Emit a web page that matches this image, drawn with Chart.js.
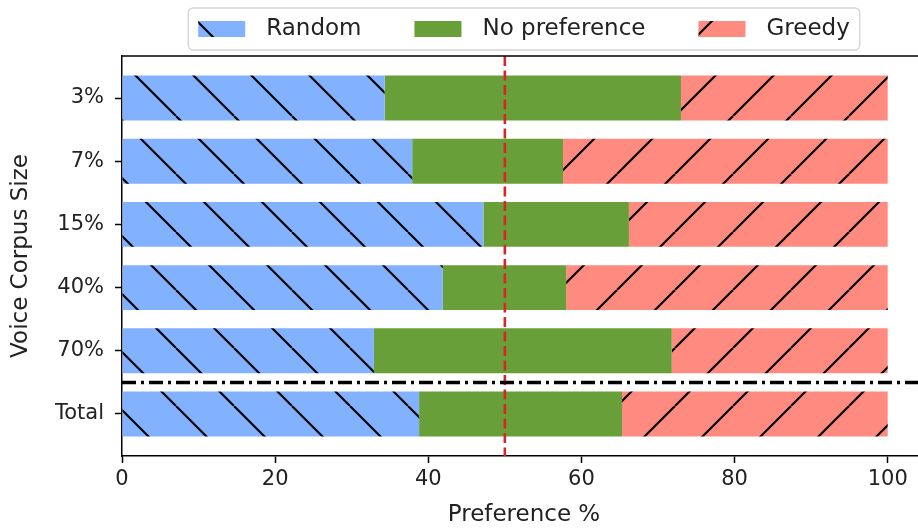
<!DOCTYPE html>
<html>
<head>
<meta charset="utf-8">
<script src="https://cdn.jsdelivr.net/npm/chart.js@4/dist/chart.umd.min.js"></script>
<style>
  html, body { margin: 0; padding: 0; background: #fff; overflow: hidden; }
  #wrap { width: 940px; height: 530px; }
</style>
</head>
<body>
<div id="wrap"><canvas id="prefChart"></canvas></div>
<script>
// values (percent of answers)
const categories = ['3%', '7%', '15%', '40%', '70%', 'Total'];
const randomPref = [34.3, 37.9, 47.2, 41.9, 32.9, 38.8];
const noPref     = [38.7, 19.7, 19.0, 16.1, 38.9, 26.5];
const greedyPref = [27.0, 42.4, 33.8, 42.0, 28.2, 34.7];
const xTicks = [0, 20, 40, 60, 80, 100];
const midLine = 50;        // red dashed line
const separatorAt = 4.5;   // dash-dot line between 70% and Total

const canvas = document.getElementById('prefChart');
const ctx0 = canvas.getContext('2d');

function hatch(bg, dir, shift) {
    const s = 58;
    const c = document.createElement('canvas');
    c.width = s; c.height = s;
    const g = c.getContext('2d');
    g.fillStyle = bg;
    g.fillRect(0, 0, s, s);
    g.strokeStyle = '#000';
    g.lineWidth = 2.1;
    for (let k = -1; k <= 1; k++) {
        g.beginPath();
        if (dir === '\\') { g.moveTo(k * s, 0); g.lineTo(k * s + s, s); }
        else { g.moveTo(k * s, s); g.lineTo(k * s + s, 0); }
        g.stroke();
    }
    const p = ctx0.createPattern(c, 'repeat');
    p.setTransform(new DOMMatrix().translate(shift, 0));
    return p;
}

const blueHatch = hatch('#82B1FF', '\\', 2);
const redHatch = hatch('#FF8A80', '/', 37);

const toPoints = arr => arr.map((v, i) => ({ x: v, y: i }));

const refLines = {
    id: 'refLines',
    afterDatasetsDraw(chart) {
        const { ctx, chartArea: a, scales: { x, y } } = chart;
        ctx.save();
        // red dashed 50% line
        const px = x.getPixelForValue(midLine);
        ctx.strokeStyle = '#d62728';
        ctx.lineWidth = 2.6;
        ctx.setLineDash([10, 4.5]);
        ctx.beginPath(); ctx.moveTo(px, a.top); ctx.lineTo(px, a.bottom); ctx.stroke();
        // dash-dot separator
        const py = y.getPixelForValue(separatorAt);
        ctx.strokeStyle = '#000';
        ctx.lineWidth = 3.5;
        ctx.setLineDash([14, 5, 3, 5]);
        ctx.beginPath(); ctx.moveTo(a.left, py); ctx.lineTo(a.right, py); ctx.stroke();
        ctx.restore();
    },
    afterDraw(chart) {
        const { ctx, chartArea: a } = chart;
        ctx.save();
        // top + right spines
        ctx.strokeStyle = '#000';
        ctx.lineWidth = 1.5;
        ctx.beginPath();
        ctx.moveTo(a.left, a.top); ctx.lineTo(a.right, a.top); ctx.lineTo(a.right, a.bottom);
        ctx.stroke();

        // legend box on top
        const items = chart.data.datasets.map(d => ({ label: d.label, fill: d.backgroundColor }));
        ctx.font = '23px "DejaVu Sans"';
        const sw = 47, sh = 16, gap = 21, colGap = 53, pad = 10;
        const widths = items.map(it => ctx.measureText(it.label).width);
        const total = widths.reduce((s, w) => s + w, 0) + items.length * (sw + gap) + (items.length - 1) * colGap;
        const cx = (a.left + a.right) / 2;
        const bx = cx - total / 2 - pad, by = 8, bw = total + 2 * pad, bh = 42;
        ctx.fillStyle = 'rgba(255,255,255,0.85)';
        ctx.strokeStyle = '#d4d4d4';
        ctx.lineWidth = 1.3;
        ctx.beginPath(); ctx.roundRect(bx, by, bw, bh, 5); ctx.fill(); ctx.stroke();
        let x = bx + pad;
        const cy = by + bh / 2;
        items.forEach((it, i) => {
            ctx.fillStyle = it.fill;
            ctx.fillRect(x, cy - sh / 2, sw, sh);
            x += sw + gap;
            ctx.fillStyle = '#222';
            ctx.textBaseline = 'middle';
            ctx.textAlign = 'left';
            ctx.fillText(it.label, x, cy);
            x += widths[i] + colGap;
        });
        ctx.restore();
    }
};

Chart.defaults.font.family = '"DejaVu Sans"';
Chart.defaults.color = '#222';

new Chart(canvas, {
    type: 'bar',
    data: {
        datasets: [
            { label: 'Random', data: toPoints(randomPref), backgroundColor: blueHatch },
            { label: 'No preference', data: toPoints(noPref), backgroundColor: '#689F38' },
            { label: 'Greedy', data: toPoints(greedyPref), backgroundColor: redHatch }
        ]
    },
    options: {
        indexAxis: 'y',
        animation: false,
        responsive: true,
        maintainAspectRatio: false,
        layout: { padding: { top: 56, right: 14, left: 0, bottom: 0 } },
        datasets: { bar: { barPercentage: 0.71, categoryPercentage: 1, borderWidth: 0 } },
        plugins: { legend: { display: false }, tooltip: { enabled: false } },
        scales: {
            x: {
                type: 'linear',
                stacked: true,
                min: 0,
                max: 105,
                afterBuildTicks: s => { s.ticks = xTicks.map(v => ({ value: v })); },
                afterFit: s => { s.height = 74; },
                grid: { drawOnChartArea: false, tickLength: 7, tickColor: '#000', tickWidth: 1.5 },
                border: { color: '#000', width: 1.5 },
                ticks: { font: { size: 21 }, padding: 4 },
                title: { display: true, text: 'Preference %', font: { size: 23 }, padding: { top: 0, bottom: 1 } }
            },
            y: {
                type: 'linear',
                stacked: true,
                reverse: true,
                offset: false,
                min: -0.665,
                max: 5.665,
                afterBuildTicks: s => { s.ticks = categories.map((c, i) => ({ value: i })); },
                afterFit: s => { s.width = 122; },
                grid: { offset: false, drawOnChartArea: false, tickLength: 7, tickColor: '#000', tickWidth: 1.5 },
                border: { color: '#000', width: 1.5 },
                ticks: { font: { size: 21 }, padding: 11, callback: v => categories[v] },
                title: { display: true, text: 'Voice Corpus Size', font: { size: 23 }, padding: { top: 7, bottom: 0 } }
            }
        }
    },
    plugins: [refLines]
});
</script>
</body>
</html>
